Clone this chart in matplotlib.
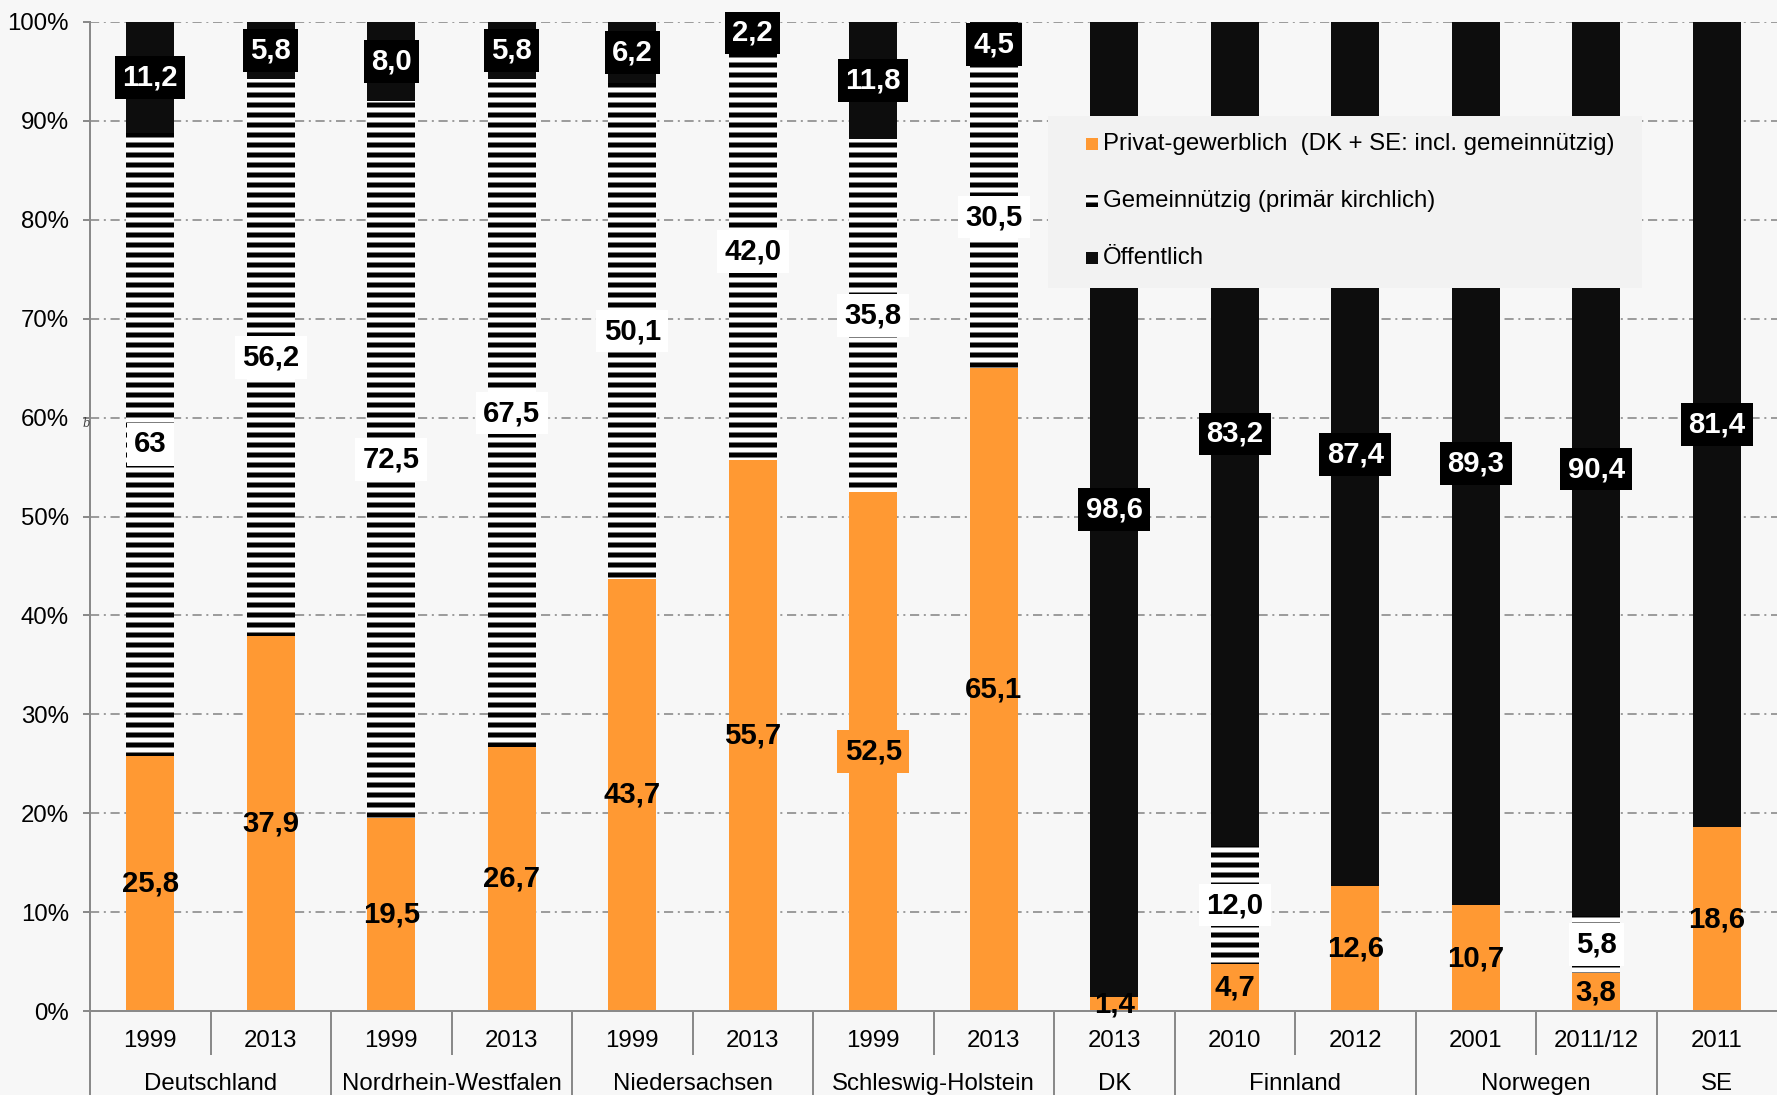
import matplotlib
matplotlib.use("Agg")
import matplotlib.pyplot as plt
from matplotlib.patches import Rectangle
from matplotlib.transforms import blended_transform_factory
import numpy as np

# ---- data -------------------------------------------------------------
groups = ["Deutschland", "Nordrhein-Westfalen", "Niedersachsen",
          "Schleswig-Holstein", "DK", "Finnland", "Norwegen", "SE"]
group_sizes = [2, 2, 2, 2, 1, 2, 2, 1]
years = ["1999", "2013", "1999", "2013", "1999", "2013", "1999", "2013",
         "2013", "2010", "2012", "2001", "2011/12", "2011"]
privat = [25.8, 37.9, 19.5, 26.7, 43.7, 55.7, 52.5, 65.1,
          1.4, 4.7, 12.6, 10.7, 3.8, 18.6]
gemein = [63, 56.2, 72.5, 67.5, 50.1, 42.0, 35.8, 30.5,
          0, 12.0, 0, 0, 5.8, 0]
oeff = [11.2, 5.8, 8.0, 5.8, 6.2, 2.2, 11.8, 4.5,
        98.6, 83.2, 87.4, 89.3, 90.4, 81.4]
series_names = ["Privat-gewerblich  (DK + SE: incl. gemeinnützig)",
                "Gemeinnützig (primär kirchlich)",
                "Öffentlich"]
yticks = list(range(0, 101, 10))

# ---- style ------------------------------------------------------------
W_PX, H_PX, DPI = 1777, 1095, 120
ORANGE = "#FF9933"
BLACK = "#0D0D0D"
BG = "#F7F7F7"
GRID = "#8C8C8C"
AXIS = "#8A8A8A"
FONT = "Liberation Sans"
FS = 14.4          # regular text
FS_LBL = 17.6      # bold value labels

plt.rcParams["font.family"] = [FONT, "DejaVu Sans"]
plt.rcParams["hatch.linewidth"] = 3.0
plt.rcParams["hatch.color"] = "black"

fig = plt.figure(figsize=(W_PX / DPI, H_PX / DPI), dpi=DPI, facecolor=BG)


def fx(px):
    return px / W_PX


def fy(py):
    return 1 - py / H_PX


ax_left, ax_right, ax_top, ax_bottom = 90, 1777, 22, 1011
ax = fig.add_axes([fx(ax_left), fy(ax_bottom),
                   fx(ax_right - ax_left), (ax_bottom - ax_top) / H_PX])
ax.set_facecolor(BG)

# 100 % stacked: each column is scaled to its own total
x = np.arange(len(years))
total = np.add(np.add(privat, gemein), oeff)
s_priv = np.array(privat) / total * 100
s_gem = np.array(gemein) / total * 100
s_oeff = np.array(oeff) / total * 100

bw = 0.4
ax.bar(x, s_priv, bw, color=ORANGE, linewidth=0, zorder=2)
ax.bar(x, s_gem, bw, bottom=s_priv, color="white", hatch="--",
       edgecolor="black", linewidth=0, zorder=2)
ax.bar(x, s_oeff, bw, bottom=s_priv + s_gem, color=BLACK, linewidth=0,
       zorder=2)

ax.set_xlim(-0.5, len(years) - 0.5)
ax.set_ylim(0, 100)
ax.set_yticks(yticks)
ax.set_yticklabels([f"{v}%" for v in yticks], fontsize=FS, color="black")
ax.tick_params(axis="y", length=4.2, width=1.2, color=AXIS, pad=8.4)
ax.set_xticks([])

ax.set_axisbelow(True)
ax.yaxis.grid(True, color=GRID, linewidth=1.0,
              linestyle=(0, (5.5, 2.8, 1.2, 2.8)))
for s in ("top", "right"):
    ax.spines[s].set_visible(False)
for s in ("left", "bottom"):
    ax.spines[s].set_color(AXIS)
    ax.spines[s].set_linewidth(1.2)


def fmt(v):
    if isinstance(v, int):
        return str(v)
    return f"{v:.1f}".replace(".", ",")


box = dict(boxstyle="square,pad=0.25", linewidth=0)

# value labels, centred in their segments
for i in x:
    p, g, o = s_priv[i], s_gem[i], s_oeff[i]
    kw = dict(ha="center", va="center", fontsize=FS_LBL,
              fontweight="bold", zorder=5)
    if i == 6:
        ax.text(i, p / 2, fmt(privat[i]), color="black",
                bbox=dict(box, facecolor=ORANGE), **kw)
    else:
        ax.text(i, p / 2, fmt(privat[i]), color="black", clip_on=False, **kw)
    if gemein[i]:
        ax.text(i, p + g / 2, fmt(gemein[i]), color="black",
                bbox=dict(box, facecolor="white"), **kw)
    ax.text(i, p + g + o / 2, fmt(oeff[i]), color="white",
            bbox=dict(box, facecolor="black"), **kw)

# category axis: year labels, group labels and separators
tr = blended_transform_factory(ax.transData, fig.transFigure)
for i, yr in enumerate(years):
    ax.text(i, fy(1047), yr, transform=tr, ha="center", va="baseline",
            fontsize=FS, color="black", clip_on=False)

starts = np.concatenate([[0], np.cumsum(group_sizes)])
for k, name in enumerate(groups):
    c = (starts[k] + starts[k + 1] - 1) / 2
    ax.text(c, fy(1090), name, transform=tr, ha="center", va="baseline",
            fontsize=FS, color="black", clip_on=False)

group_edges = set(int(s) for s in starts[:-1])
for b in range(len(years)):
    y_end = fy(H_PX) if b in group_edges else fy(1054)
    ax.plot([b - 0.5, b - 0.5], [fy(ax_bottom), y_end], transform=tr,
            color=AXIS, linewidth=1.2, clip_on=False, zorder=1)

# small mark left of the axis
fig.text(fx(86), fy(423), "b", fontsize=7, style="italic",
         family="DejaVu Serif", color="#444444", ha="center", va="center")

# legend panel
lx0, ly0, lx1, ly1 = 1048, 116, 1642, 288
fig.add_artist(Rectangle((fx(lx0), fy(ly1)), fx(lx1 - lx0),
                         (ly1 - ly0) / H_PX, transform=fig.transFigure,
                         facecolor="#F2F2F2", edgecolor="none", zorder=10))
rows = [144, 201, 258]
styles = [dict(facecolor=ORANGE),
          dict(facecolor="white", hatch="--", edgecolor="black", linewidth=0),
          dict(facecolor=BLACK)]
msz = 12
for name, ry, st in zip(series_names, rows, styles):
    st = dict(st)
    st.setdefault("edgecolor", "none")
    st.setdefault("linewidth", 0)
    fig.add_artist(Rectangle((fx(1086), fy(ry + msz / 2)), fx(msz),
                             msz / H_PX, transform=fig.transFigure,
                             zorder=11, **st))
    fig.text(fx(1103), fy(ry), name, fontsize=FS, color="black",
             ha="left", va="center", zorder=12)

fig.savefig("out.png", dpi=DPI, facecolor=BG)
